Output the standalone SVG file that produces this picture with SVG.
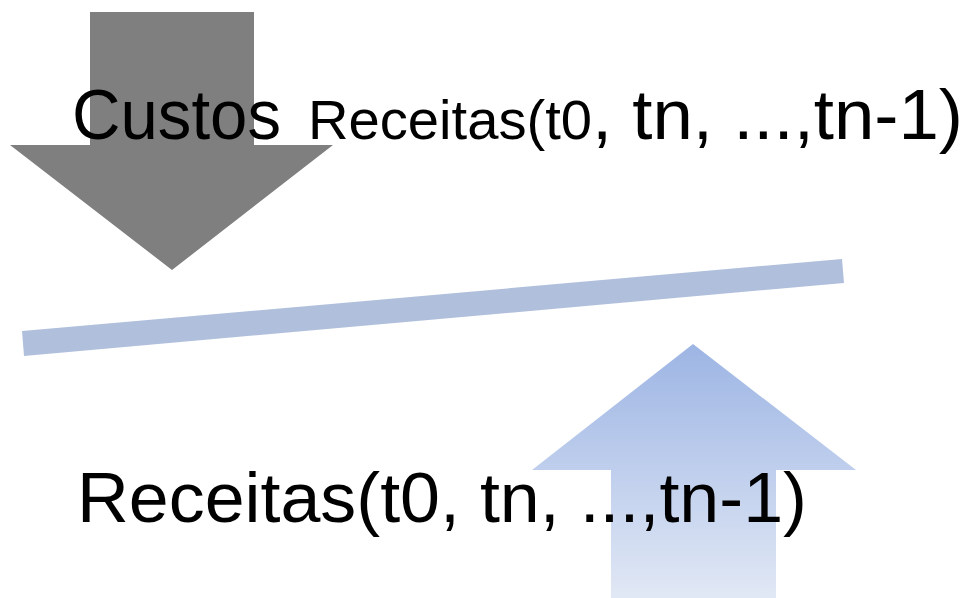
<svg xmlns="http://www.w3.org/2000/svg" width="973" height="598" viewBox="0 0 973 598">
  <defs>
    <linearGradient id="upGrad" x1="0" y1="0" x2="0" y2="1">
      <stop offset="0" stop-color="#9db5e4"/>
      <stop offset="1" stop-color="#e1e8f5"/>
    </linearGradient>
    <style>
      .lbl { font-family: "Liberation Sans", Arial, sans-serif; fill: #000000; }
      .big { font-size: 71px; }
      .small { font-size: 56px; }
    </style>
  </defs>
  <rect x="0" y="0" width="973" height="598" fill="#ffffff"/>

  <g id="arrow-custos">
    <polygon points="90,12 254,12 254,145 333,145 172,270 10,145 90,145" fill="#7f7f7f"/>
  </g>

  <g id="balance-bar">
    <polygon points="22,331 842,259 844,283 24,356" fill="#b0c0dc"/>
  </g>

  <g id="arrow-receitas">
    <polygon points="693,344 856,470 776,470 776,598 611,598 611,470 532,470" fill="url(#upGrad)"/>
  </g>

  <g id="connectors"></g>

  <g id="label-top">
    <text class="lbl big" x="72" y="139" textLength="209" lengthAdjust="spacingAndGlyphs">Custos</text>
    <text class="lbl small" x="308" y="139" textLength="284" lengthAdjust="spacingAndGlyphs">Receitas(t0</text>
    <text class="lbl big" x="592" y="139" textLength="371" lengthAdjust="spacingAndGlyphs">, tn, ...,tn-1)</text>
  </g>

  <g id="label-bottom">
    <text class="lbl big" x="77" y="522" textLength="730" lengthAdjust="spacingAndGlyphs">Receitas(t0, tn, ...,tn-1)</text>
  </g>
</svg>
